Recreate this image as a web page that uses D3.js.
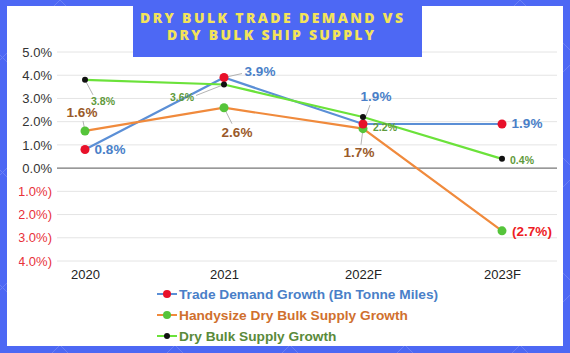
<!DOCTYPE html>
<html><head><meta charset="utf-8">
<script src="https://cdn.jsdelivr.net/npm/d3@7"></script>
<style>html,body{margin:0;padding:0;background:#4d68f4;}svg{display:block;}</style>
</head><body>
<script>
const categories = ["2020", "2021", "2022F", "2023F"];
const tradeDemand = [0.8, 3.9, 1.9, 1.9];
const handysize = [1.6, 2.6, 1.7, -2.7];
const dryBulk = [3.8, 3.6, 2.2, 0.4];
const yTicks = [5, 4, 3, 2, 1, 0, -1, -2, -3, -4];
const seriesNames = ["Trade Demand Growth (Bn Tonne Miles)", "Handysize Dry Bulk Supply Growth", "Dry Bulk Supply Growth"];
const titleLines = ["DRY BULK TRADE DEMAND VS", "DRY BULK SHIP SUPPLY"];

// layout: label offsets [dx, dy, leader end dx, dy or null]
const labelLayout = [
  [[25,0,null],[36,-6,[18,-4]],[13,-27,[7,-19]],[25,0,null]],
  [[-3,-18,[-2,-10]],[13,25,[8,16]],[-4,24,[-2,16]],[30,1,null]],
  [[18,21,[8,15]],[-42,12,[-28,11]],[22,10,null],[20,1,null]]
];

const W = 570, H = 353;
const svg = d3.select("body").append("svg").attr("width", W).attr("height", H);

// background texture
const bg = svg.append("g").attr("stroke", "#7f93f7").attr("stroke-width", 1).attr("opacity", 0.6);
for (let k = -400; k < 1000; k += 115) {
  bg.append("line").attr("x1", k).attr("y1", 0).attr("x2", k + 353).attr("y2", 353);
  bg.append("line").attr("x1", k).attr("y1", 0).attr("x2", k - 353).attr("y2", 353);
}

// white panel
svg.append("rect").attr("x", 7).attr("y", 6).attr("width", 556).attr("height", 340).attr("fill", "#fff");

const x = d3.scalePoint().domain(categories).range([85, 502]);
const y = d3.scaleLinear().domain([-4, 5]).range([261, 52]);
const gridX0 = 57, gridX1 = 557;

// grid
svg.append("g").selectAll("line").data(yTicks).join("line")
  .attr("x1", gridX0).attr("x2", gridX1)
  .attr("y1", d => y(d)).attr("y2", d => y(d))
  .attr("stroke", d => d === 0 ? "#777" : "#e4e4e4")
  .attr("stroke-width", d => d === 0 ? 1.2 : 1);

// y tick labels (left paren cropped as in the source image)
svg.append("defs").append("clipPath").attr("id", "yclip")
  .append("rect").attr("x", -33.3).attr("y", 0).attr("width", 60).attr("height", H);
const yAxis = d3.axisLeft(y).tickValues(yTicks).tickSize(0).tickPadding(0)
  .tickFormat(d => d < 0 ? "(" + Math.abs(d).toFixed(1) + "%)" : d.toFixed(1) + "%");
const yg = svg.append("g").attr("transform", "translate(52,0)").call(yAxis);
yg.select(".domain").remove();
yg.selectAll("text").attr("font-family", "Liberation Sans, Arial, sans-serif").attr("font-size", 13)
  .attr("fill", d => d < 0 ? "#e8323a" : "#333");
yg.attr("clip-path", "url(#yclip)");

// x axis labels
const xAxis = d3.axisBottom(x).tickSize(0).tickPadding(0);
const xg = svg.append("g").attr("transform", "translate(0,270)").call(xAxis);
xg.select(".domain").remove();
xg.selectAll("text").attr("font-family", "Liberation Sans, Arial, sans-serif").attr("font-size", 13).attr("fill", "#222").attr("dy", "0.71em").attr("y", 0);

const series = [
  {vals: tradeDemand, line: "#5b8fd6", marker: "#e8102a", r: 4.5, label: "#4a7fc8", small: false, text: "#4a7fc8"},
  {vals: handysize, line: "#f08a3c", marker: "#55c43a", r: 4.5, label: "#9a5a2a", small: false, text: "#d0702e"},
  {vals: dryBulk, line: "#6be23a", marker: "#111", r: 3, label: "#5f9a3c", small: true, text: "#5a8a3a"}
];

const lineGen = d3.line().x((d, i) => x(categories[i])).y(d => y(d));
series.forEach(s => {
  svg.append("path").datum(s.vals).attr("d", lineGen).attr("fill", "none").attr("stroke", s.line).attr("stroke-width", 2.2);
});

// leaders
series.forEach((s, si) => {
  s.vals.forEach((v, i) => {
    const L = labelLayout[si][i];
    if (L[2]) {
      svg.append("line").attr("x1", x(categories[i])).attr("y1", y(v))
        .attr("x2", x(categories[i]) + L[2][0]).attr("y2", y(v) + L[2][1])
        .attr("stroke", "#aaa").attr("stroke-width", 0.9);
    }
  });
});

// markers
[1, 0, 2].forEach(si => {
  const s = series[si];
  svg.append("g").selectAll("circle").data(s.vals).join("circle")
    .attr("cx", (d, i) => x(categories[i])).attr("cy", d => y(d)).attr("r", s.r).attr("fill", s.marker);
});

// value labels
const fmt = v => v < 0 ? "(" + Math.abs(v).toFixed(1) + "%)" : v.toFixed(1) + "%";
series.forEach((s, si) => {
  s.vals.forEach((v, i) => {
    const L = labelLayout[si][i];
    svg.append("text").attr("x", x(categories[i]) + L[0]).attr("y", y(v) + L[1])
      .attr("text-anchor", "middle").attr("dominant-baseline", "central")
      .attr("font-family", "Liberation Sans, Arial, sans-serif").attr("font-weight", "bold")
      .attr("font-size", s.small ? 10.5 : 13.5)
      .attr("fill", v < 0 ? "#ee1c25" : s.label).text(fmt(v));
  });
});

// legend
const lg = svg.append("g");
seriesNames.forEach((name, i) => {
  const s = series[i];
  const ly = 294 + i * 21;
  lg.append("line").attr("x1", 157).attr("x2", 177).attr("y1", ly).attr("y2", ly).attr("stroke", s.line).attr("stroke-width", 2);
  lg.append("circle").attr("cx", 167).attr("cy", ly).attr("r", i === 2 ? 3 : 4).attr("fill", s.marker);
  lg.append("text").attr("x", 179).attr("y", ly).attr("dominant-baseline", "central")
    .attr("font-family", "Liberation Sans, Arial, sans-serif").attr("font-weight", "bold").attr("font-size", 13.7)
    .attr("fill", s.text).text(name);
});

// title box
svg.append("rect").attr("x", 133).attr("y", 0).attr("width", 289).attr("height", 57).attr("fill", "#4d68f4");
const tl = [[140, 263, 22.5], [167, 207, 40]];
titleLines.forEach((t, i) => {
  svg.append("text").attr("x", tl[i][0]).attr("y", tl[i][2])
    .attr("textLength", tl[i][1]).attr("lengthAdjust", "spacing")
    .attr("font-family", "Open Sans, sans-serif").attr("font-weight", 800).attr("font-size", 14)
    .attr("fill", "#f3e35a").text(t);
});
</script>
</body></html>
